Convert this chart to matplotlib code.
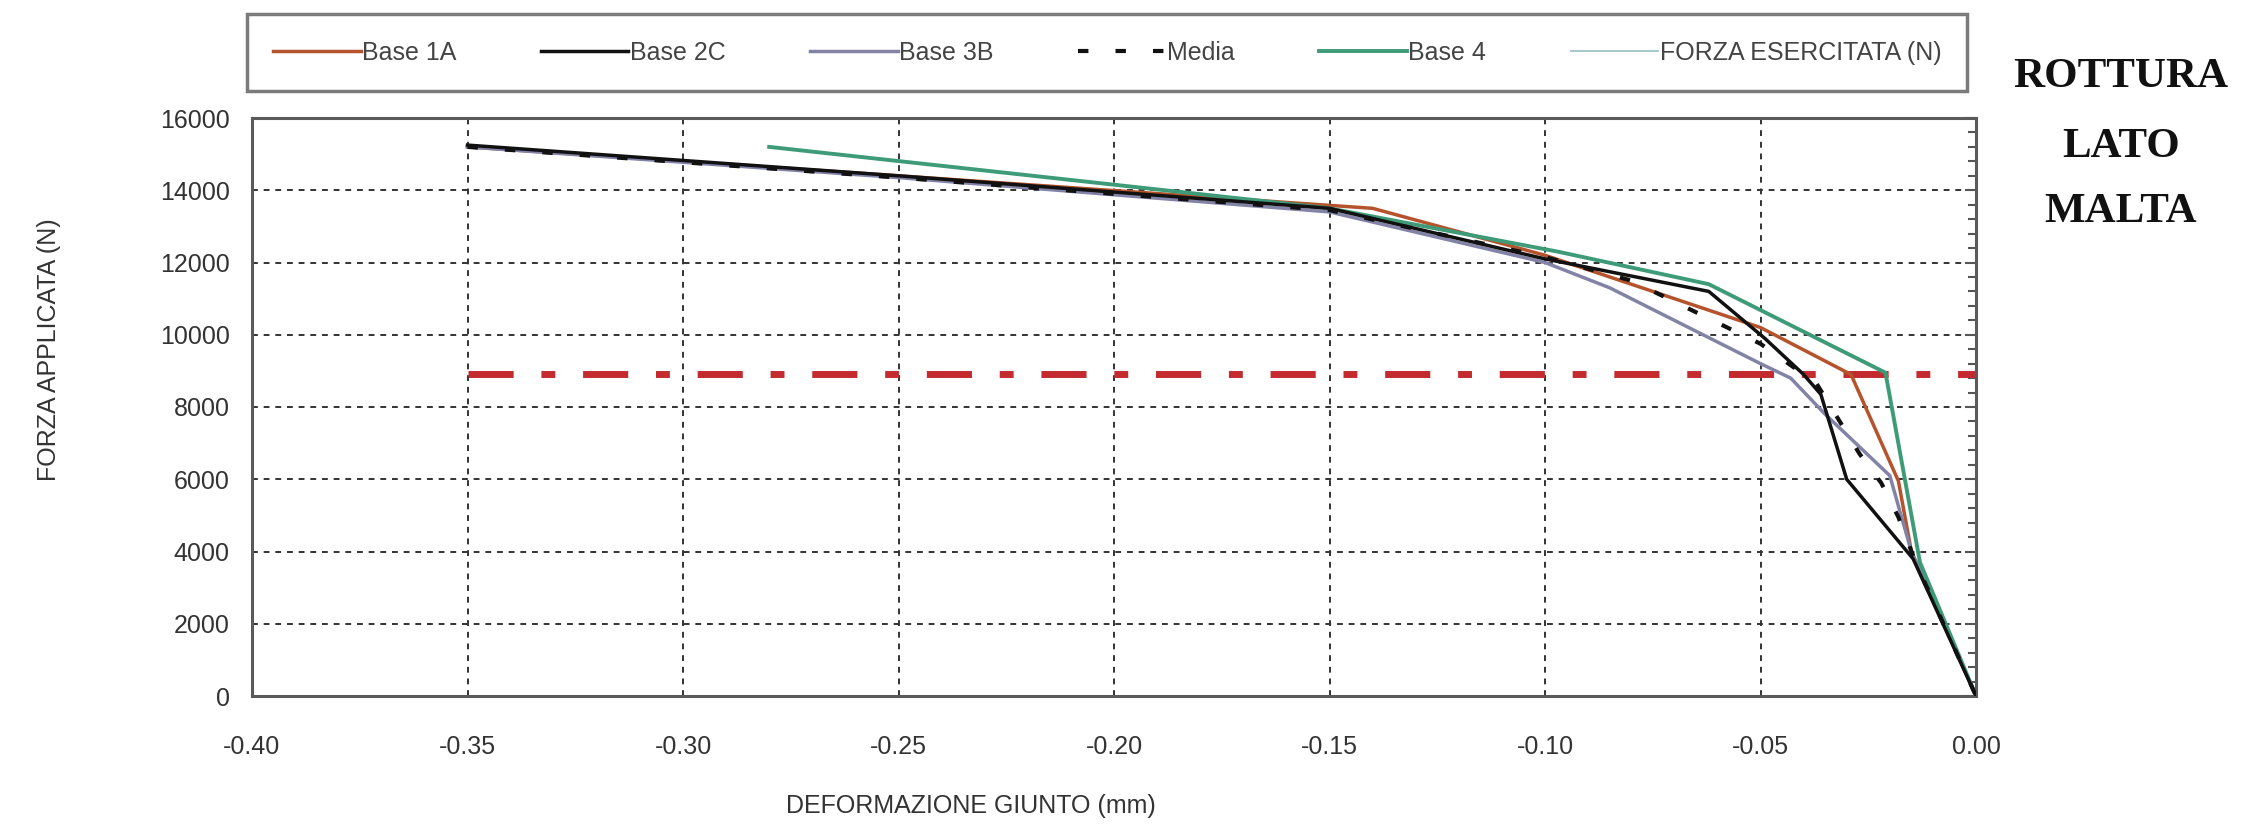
import matplotlib
matplotlib.use('Agg')
import matplotlib.pyplot as plt
from matplotlib.lines import Line2D
from matplotlib.ticker import MultipleLocator, FormatStrFormatter

plt.rcParams['font.family'] = ['Liberation Sans', 'DejaVu Sans']

# ========== dati ==========
base_1a_x = [-0.35, -0.25, -0.14, -0.10, -0.05, -0.029, -0.018, -0.015, 0.0]
base_1a_y = [15200, 14400, 13500, 12200, 10200, 8900, 5950, 4000, 0]

base_2c_x = [-0.35, -0.25, -0.15, -0.10, -0.062, -0.049, -0.040, -0.036, -0.030, -0.0146, 0.0]
base_2c_y = [15250, 14400, 13500, 12100, 11200, 9900, 8900, 8350, 6000, 3800, 0]

base_3b_x = [-0.35, -0.25, -0.15, -0.10, -0.085, -0.05, -0.043, -0.035, -0.020, -0.015, 0.0]
base_3b_y = [15200, 14350, 13400, 12000, 11300, 9200, 8800, 7800, 6100, 4000, 0]

media_x = [-0.35, -0.25, -0.15, -0.10, -0.08, -0.05, -0.037, -0.027, -0.022, -0.018, -0.014, 0.0]
media_y = [15200, 14350, 13450, 12150, 11500, 9750, 8650, 6700, 5900, 4950, 3700, 0]

base_4_x = [-0.28, -0.15, -0.097, -0.062, -0.021, -0.013, 0.0]
base_4_y = [15200, 13500, 12300, 11400, 8950, 3700, 0]

forza_limite = 8900          # linea rossa tratto-punto
forza_x_range = [-0.35, 0.0]

labels = ['Base 1A', 'Base 2C', 'Base 3B', 'Media', 'Base 4', 'FORZA ESERCITATA (N)']
colors = ['#B4532C', '#111111', '#8383A8', '#111111', '#3E9B78', '#A8CACA']

# ========== figura ==========
W, H = 2248, 826
fig = plt.figure(figsize=(W / 100, H / 100), dpi=100)
ax = fig.add_axes([252 / W, 1 - 696 / H, 1724 / W, 578 / H])

ax.set_xlim(-0.40, 0.0)
ax.set_ylim(0, 16000)

ax.plot(base_1a_x, base_1a_y, color=colors[0], lw=2.5, label=labels[0], zorder=3)
ax.plot(base_2c_x, base_2c_y, color=colors[1], lw=2.5, label=labels[1], zorder=4)
ax.plot(base_3b_x, base_3b_y, color=colors[2], lw=2.5, label=labels[2], zorder=3)
ax.plot(media_x, media_y, color=colors[3], lw=3, dashes=(2.5, 6.5), label=labels[3], zorder=5)
ax.plot(base_4_x, base_4_y, color=colors[4], lw=2.8, label=labels[4], zorder=3)

ax.hlines(forza_limite, forza_x_range[0], forza_x_range[1], color='#C42B2F', lw=5,
          linestyles=[(0, (6.5, 4, 2, 4))], capstyle='butt', zorder=2)

# griglia tratteggiata
ax.grid(True, color='#333333', linestyle=(0, (3, 3)), linewidth=1.4)
ax.set_axisbelow(True)

ax.xaxis.set_major_locator(MultipleLocator(0.05))
ax.xaxis.set_major_formatter(FormatStrFormatter('%.2f'))
ax.yaxis.set_major_locator(MultipleLocator(2000))
ax.yaxis.set_minor_locator(MultipleLocator(400))

ax.tick_params(axis='x', which='both', length=0, pad=28, labelsize=18, labelcolor='#333333')
ax.tick_params(axis='y', which='both', left=False, right=True, direction='in',
               labelleft=True, labelright=False, pad=16, labelsize=18,
               labelcolor='#333333', color='#555555')
ax.tick_params(axis='y', which='major', length=8, width=1.5)
ax.tick_params(axis='y', which='minor', length=6, width=1.5)

for s in ax.spines.values():
    s.set_color('#5a5a5a')
    s.set_linewidth(2.2)

ax.set_xlabel('DEFORMAZIONE GIUNTO (mm)', fontsize=18, color='#333333')
ax.xaxis.set_label_coords(0.417, -0.17)
ax.set_ylabel('FORZA APPLICATA (N)', fontsize=18, color='#333333')
ax.yaxis.set_label_coords(-0.111, 0.6)

# legenda su una riga
handles, _ = ax.get_legend_handles_labels()
handles.append(Line2D([], [], color=colors[5], lw=1.5))
leg = ax.legend(handles, labels, loc='lower left', ncol=6, mode='expand',
                bbox_to_anchor=(-0.003, 1.047, 0.998, 0.128), borderaxespad=0,
                fontsize=18, handlelength=3.5, handletextpad=0.05,
                borderpad=1.05, fancybox=False, frameon=True, labelcolor='#444444')
leg.get_frame().set_edgecolor('#5a5a5a')
leg.get_frame().set_linewidth(2.5)

# testo a destra
for txt, yp in [('ROTTURA', 77), ('LATO', 147), ('MALTA', 212)]:
    fig.text(2121 / W, 1 - yp / H, txt, ha='center', va='center', fontsize=31,
             fontweight='bold', family='Liberation Serif', color='#111111')

fig.savefig('out.png', dpi=100, facecolor='white')
